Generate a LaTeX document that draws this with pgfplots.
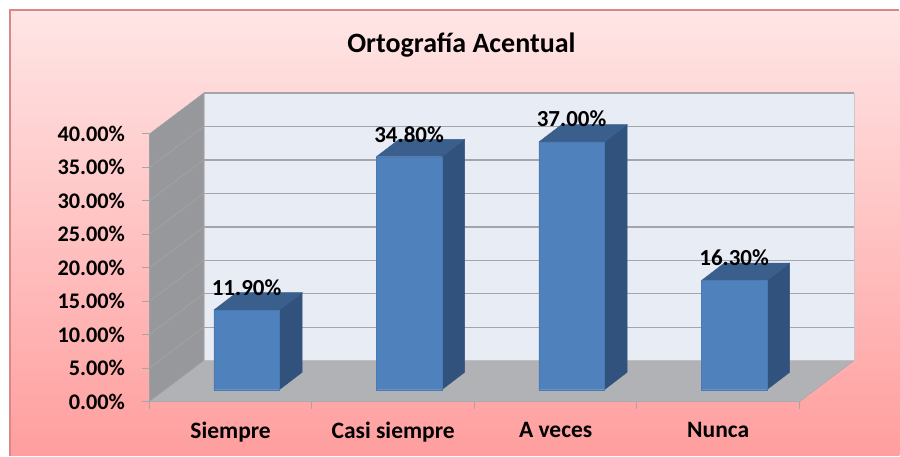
\documentclass[border=0pt]{standalone}
\usepackage{fontspec}
\setmainfont{Carlito}
\usepackage{pgfplots}
\pgfplotsset{compat=1.18}

\definecolor{wallback}{HTML}{E8ECF5}
\definecolor{wallside}{HTML}{96989B}
\definecolor{wallfloor}{HTML}{B0B2B5}
\definecolor{gridgray}{HTML}{A3A5A9}
\definecolor{barfront}{HTML}{4F81BD}
\definecolor{barside}{HTML}{31527D}
\definecolor{bartop}{HTML}{3B5F8D}
\definecolor{barline}{HTML}{4A7AB4}
\definecolor{framered}{HTML}{D98888}

% one 3D column: category position, value
\newcommand{\columnthreeD}[2]{%
  \pgfmathsetmacro\xa{#1+0.098-0.2014}
  \pgfmathsetmacro\xb{#1+0.098+0.2014}
  \pgfmathsetmacro\xc{\xb+0.14}
  \pgfmathsetmacro\xd{\xa+0.14}
  \pgfmathsetmacro\ya{1.79}
  \pgfmathsetmacro\yb{1.79+2.6}
  \pgfmathsetmacro\yt{1.79+#2}
  \pgfmathsetmacro\yu{\yt+2.6}
  \addplot[fill=barside, draw=barside] coordinates {(\xb,\ya) (\xc,\yb) (\xc,\yu) (\xb,\yt) (\xb,\ya)};
  \addplot[fill=bartop, draw=bartop] coordinates {(\xa,\yt) (\xb,\yt) (\xc,\yu) (\xd,\yu) (\xa,\yt)};
  \addplot[fill=barfront, draw=barline] coordinates {(\xa,\ya) (\xb,\ya) (\xb,\yt) (\xa,\yt) (\xa,\ya)};
}

\begin{document}
\begin{tikzpicture}[x=1pt,y=1pt]
  \fill[white] (0,0) rectangle (900,456);
  \shade[top color=red!10!white, middle color=red!22!white, bottom color=red!38!white, shading angle=0] (10,0) rectangle (900,446);
  \draw[framered, line width=1.3pt] (10,0) -- (10,446) -- (900,446);
  \begin{axis}[
      at={(149.5pt,54pt)}, anchor=south west,
      scale only axis, width=650.5pt, height=268pt,
      xmin=-0.5, xmax=3.5, ymin=0, ymax=40,
      clip=false,
      axis x line*=bottom, axis y line*=left,
      axis line style={draw=gridgray, line width=0.9pt},
      tick style={draw=gridgray, line width=0.9pt},
      tick align=outside, major tick length=7pt,
      xtick={-0.5,0.5,1.5,2.5,3.5}, xticklabels={},
      extra x ticks={0,1,2,3},
      extra x tick labels={Siempre,Casi siempre,A veces,Nunca},
      extra x tick style={major tick length=0pt, tick style={draw=none}},
      ytick={0,5,...,40},
      yticklabel={\pgfmathprintnumber[assume math mode=true,fixed,fixed zerofill,precision=2]{\tick}\%},
      yticklabel style={font=\fontsize{22.3}{25}\selectfont\bfseries, xshift=-14pt},
      xticklabel style={font=\fontsize{23.5}{26}\selectfont\bfseries, yshift=-17pt},
      title={Ortografía Acentual},
      title style={at={(axis description cs:0.48,1.31)}, anchor=center, font=\fontsize{28}{32}\selectfont\bfseries},
    ]
    % walls and floor
    \addplot[fill=wallback, draw=gridgray!60] coordinates {(-0.165,6.12) (3.835,6.12) (3.835,46.12) (-0.165,46.12) (-0.165,6.12)};
    \addplot[fill=wallside, draw=gridgray] coordinates {(-0.5,0) (-0.165,6.12) (-0.165,46.12) (-0.5,40) (-0.5,0)};
    \addplot[fill=wallfloor, draw=gridgray] coordinates {(-0.5,0) (3.5,0) (3.835,6.12) (-0.165,6.12) (-0.5,0)};
    % gridlines on back wall
    \addplot[gridgray, line width=1.4pt] coordinates {(-0.165,46.12) (3.835,46.12)};
    \addplot[gridgray, line width=1.4pt] coordinates {(-0.165,41.12) (3.835,41.12)};
    \addplot[gridgray, line width=1.4pt] coordinates {(-0.165,36.12) (3.835,36.12)};
    \addplot[gridgray, line width=1.4pt] coordinates {(-0.165,31.12) (3.835,31.12)};
    \addplot[gridgray, line width=1.4pt] coordinates {(-0.165,26.12) (3.835,26.12)};
    \addplot[gridgray, line width=1.4pt] coordinates {(-0.165,21.12) (3.835,21.12)};
    \addplot[gridgray, line width=1.4pt] coordinates {(-0.165,16.12) (3.835,16.12)};
    \addplot[gridgray, line width=1.4pt] coordinates {(-0.165,11.12) (3.835,11.12)};
    % gridlines on side wall
    \addplot[gridgray, line width=0.6pt] coordinates {(-0.5,35) (-0.165,41.12)};
    \addplot[gridgray, line width=0.6pt] coordinates {(-0.5,30) (-0.165,36.12)};
    \addplot[gridgray, line width=0.6pt] coordinates {(-0.5,25) (-0.165,31.12)};
    \addplot[gridgray, line width=0.6pt] coordinates {(-0.5,20) (-0.165,26.12)};
    \addplot[gridgray, line width=0.6pt] coordinates {(-0.5,15) (-0.165,21.12)};
    \addplot[gridgray, line width=0.6pt] coordinates {(-0.5,10) (-0.165,16.12)};
    \addplot[gridgray, line width=0.6pt] coordinates {(-0.5,5) (-0.165,11.12)};
    % columns
    \columnthreeD{0}{11.9}
    \columnthreeD{1}{34.8}
    \columnthreeD{2}{37.0}
    \columnthreeD{3}{16.3}
    % data labels
    \addplot[draw=none, nodes near coords, point meta=explicit symbolic,
      nodes near coords align={center},
      every node near coord/.style={font=\fontsize{23}{26}\selectfont\bfseries, inner sep=0pt, anchor=center}]
      coordinates {
        (0.098,17.1)[11.90\%]
        (1.098,39.9)[34.80\%]
        (2.098,42.2)[37.00\%]
        (3.098,21.5)[16.30\%]
      };
  \end{axis}
\end{tikzpicture}
\end{document}
